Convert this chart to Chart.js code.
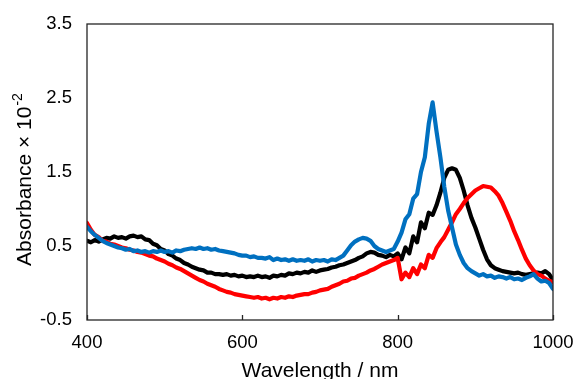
<!DOCTYPE html>
<html>
<head>
<meta charset="utf-8">
<script src="https://cdn.jsdelivr.net/npm/chart.js@4/dist/chart.umd.min.js"></script>
<style>
    body { margin: 0; background: #fff; }
    #box { width: 577px; height: 379px; }
</style>
</head>
<body>
<div id="box"><canvas id="spectrum" width="577" height="379"></canvas></div>
<script>
// 波长 (nm)
const wavelengths = [
    400, 405, 410, 415, 420, 425, 430, 435, 440, 445, 450, 455, 460, 465, 470, 475, 480, 485, 490, 495,
    500, 505, 510, 515, 520, 525, 530, 535, 540, 545, 550, 555, 560, 565, 570, 575, 580, 585, 590, 595,
    600, 605, 610, 615, 620, 625, 630, 635, 640, 645, 650, 655, 660, 665, 670, 675, 680, 685, 690, 695,
    700, 705, 710, 715, 720, 725, 730, 735, 740, 745, 750, 755, 760, 765, 770, 775, 780, 785, 790, 795,
    800, 805, 810, 815, 820, 825, 830, 835, 840, 845, 850, 855, 860, 865, 870, 875, 880, 885, 890, 895,
    900, 905, 910, 915, 920, 925, 930, 935, 940, 945, 950, 955, 960, 965, 970, 975, 980, 985, 990, 995,
    1000
];

// 黑色曲线
const blackAbs = [
    0.57, 0.55, 0.58, 0.56, 0.59, 0.61, 0.60, 0.63, 0.61, 0.62, 0.60, 0.63, 0.64, 0.62, 0.63, 0.59, 0.58, 0.53, 0.51, 0.46,
    0.44, 0.39, 0.37, 0.33, 0.31, 0.27, 0.25, 0.22, 0.20, 0.18, 0.17, 0.14, 0.14, 0.12, 0.12, 0.11, 0.12, 0.10, 0.11, 0.09,
    0.10, 0.08, 0.09, 0.08, 0.10, 0.08, 0.09, 0.07, 0.10, 0.09, 0.11, 0.10, 0.13, 0.12, 0.14, 0.13, 0.15, 0.14, 0.17, 0.15,
    0.17, 0.18, 0.19, 0.21, 0.22, 0.24, 0.25, 0.27, 0.29, 0.31, 0.34, 0.36, 0.40, 0.42, 0.41, 0.38, 0.37, 0.35, 0.38, 0.36,
    0.40, 0.32, 0.48, 0.40, 0.63, 0.55, 0.82, 0.74, 0.95, 0.92, 1.05, 1.22, 1.42, 1.53, 1.55, 1.53, 1.42, 1.25, 1.05, 0.88,
    0.75, 0.60, 0.45, 0.32, 0.24, 0.20, 0.18, 0.16, 0.15, 0.14, 0.13, 0.14, 0.12, 0.11, 0.12, 0.13, 0.14, 0.13, 0.16, 0.12,
    0.04
];

// 红色曲线
const redAbs = [
    0.81, 0.72, 0.65, 0.62, 0.57, 0.56, 0.53, 0.52, 0.50, 0.48, 0.47, 0.45, 0.44, 0.42, 0.41, 0.39, 0.37, 0.36, 0.33, 0.31,
    0.29, 0.26, 0.24, 0.21, 0.19, 0.16, 0.13, 0.10, 0.07, 0.04, 0.02, -0.01, -0.03, -0.05, -0.08, -0.10, -0.12, -0.13, -0.15, -0.16,
    -0.17, -0.18, -0.19, -0.20, -0.19, -0.21, -0.20, -0.22, -0.20, -0.21, -0.19, -0.20, -0.18, -0.19, -0.17, -0.16, -0.15, -0.15, -0.13, -0.12,
    -0.10, -0.09, -0.08, -0.05, -0.03, -0.01, 0.02, 0.03, 0.06, 0.07, 0.10, 0.12, 0.14, 0.17, 0.19, 0.22, 0.25, 0.27, 0.29, 0.31,
    0.34, 0.05, 0.14, 0.08, 0.20, 0.12, 0.25, 0.20, 0.38, 0.34, 0.47, 0.55, 0.62, 0.72, 0.82, 0.93, 1.00, 1.08, 1.15, 1.20,
    1.25, 1.28, 1.31, 1.30, 1.29, 1.24, 1.18, 1.08, 0.96, 0.84, 0.70, 0.58, 0.45, 0.33, 0.24, 0.17, 0.12, 0.10, 0.06, 0.03,
    0.01
];

// 蓝色曲线
const blueAbs = [
    0.76, 0.70, 0.65, 0.61, 0.57, 0.54, 0.52, 0.50, 0.48, 0.47, 0.45, 0.46, 0.43, 0.44, 0.42, 0.43, 0.41, 0.43, 0.42, 0.44,
    0.42, 0.43, 0.41, 0.44, 0.43, 0.45, 0.46, 0.47, 0.46, 0.48, 0.46, 0.47, 0.45, 0.46, 0.44, 0.43, 0.42, 0.41, 0.40, 0.38,
    0.37, 0.37, 0.35, 0.36, 0.34, 0.34, 0.33, 0.35, 0.31, 0.33, 0.31, 0.32, 0.30, 0.32, 0.30, 0.31, 0.30, 0.32, 0.29, 0.31,
    0.30, 0.31, 0.29, 0.32, 0.31, 0.34, 0.37, 0.44, 0.51, 0.56, 0.59, 0.61, 0.60, 0.57, 0.50, 0.46, 0.44, 0.42, 0.44, 0.46,
    0.56, 0.68, 0.86, 0.93, 1.14, 1.20, 1.50, 1.70, 2.15, 2.44, 2.05, 1.70, 1.30, 0.98, 0.75, 0.52, 0.38, 0.27, 0.20, 0.16,
    0.13, 0.10, 0.12, 0.09, 0.10, 0.07, 0.09, 0.08, 0.06, 0.08, 0.05, 0.06, 0.04, 0.07, 0.09, 0.12, 0.06, 0.02, 0.03, 0.00,
    -0.08
];

// 坐标轴
const xTicks = [400, 600, 800, 1000];
const yTicks = [-0.5, 0.5, 1.5, 2.5, 3.5];

const FONT = '"Liberation Sans", Arial, sans-serif';

function toPoints(values) {
    return values.map((v, i) => ({ x: wavelengths[i], y: v }));
}

// 外框 + 向内的刻度线
const frame = {
    id: 'frame',
    afterDatasetsDraw(chart) {
        const { ctx, chartArea: a, scales } = chart;
        ctx.save();
        ctx.strokeStyle = '#262626';
        ctx.lineWidth = 1.3;
        ctx.strokeRect(a.left, a.top, a.right - a.left, a.bottom - a.top);
        ctx.beginPath();
        xTicks.forEach(t => {
            const px = Math.round(scales.x.getPixelForValue(t)) + 0.5;
            ctx.moveTo(px, a.bottom);
            ctx.lineTo(px, a.bottom - 5);
        });
        ctx.stroke();
        ctx.restore();
    }
};

// 轴标题（带上标）
const titles = {
    id: 'titles',
    afterDraw(chart) {
        const ctx = chart.ctx;
        const a = chart.chartArea;
        ctx.save();
        ctx.fillStyle = '#000';
        ctx.textBaseline = 'alphabetic';

        ctx.font = '21px ' + FONT;
        ctx.textAlign = 'center';
        ctx.fillText('Wavelength / nm', (a.left + a.right) / 2, 377);

        ctx.textAlign = 'left';
        ctx.translate(31, 180);
        ctx.rotate(-Math.PI / 2);
        const main = 'Absorbance × 10';
        const sup = '-2';
        ctx.font = '21px ' + FONT;
        const w1 = ctx.measureText(main).width;
        ctx.font = '14px ' + FONT;
        const w2 = ctx.measureText(sup).width;
        const start = -(w1 + w2) / 2;
        ctx.font = '21px ' + FONT;
        ctx.fillText(main, start, 0);
        ctx.font = '14px ' + FONT;
        ctx.fillText(sup, start + w1 + 1, -9);
        ctx.restore();
    }
};

function lineSet(label, values, color) {
    return {
        label: label,
        data: toPoints(values),
        borderColor: color,
        backgroundColor: color,
        borderWidth: 4.2,
        pointRadius: 0,
        tension: 0,
        borderJoinStyle: 'round',
        borderCapStyle: 'round'
    };
}

document.addEventListener('DOMContentLoaded', () => {
    const ctx = document.getElementById('spectrum').getContext('2d');
    new Chart(ctx, {
        type: 'line',
        data: {
            datasets: [
                lineSet('blue', blueAbs, '#0070c0'),
                lineSet('red', redAbs, '#ff0000'),
                lineSet('black', blackAbs, '#000000')
            ]
        },
        options: {
            responsive: false,
            animation: false,
            layout: { padding: { top: 24, right: 24, left: 0, bottom: 0 } },
            plugins: {
                legend: { display: false },
                tooltip: { enabled: false }
            },
            scales: {
                x: {
                    type: 'linear',
                    min: 400,
                    max: 1000,
                    afterFit: scale => {
                        scale.height = 59;
                        scale.paddingLeft = 0;
                        scale.paddingRight = 0;
                    },
                    afterBuildTicks: scale => { scale.ticks = xTicks.map(v => ({ value: v })); },
                    grid: { display: false, drawTicks: false },
                    border: { display: false },
                    ticks: {
                        padding: 12,
                        color: '#000',
                        font: { family: FONT, size: 18.5 },
                        maxRotation: 0,
                        callback: v => String(v)
                    }
                },
                y: {
                    min: -0.5,
                    max: 3.5,
                    afterFit: scale => {
                        scale.width = 87;
                        scale.paddingTop = 0;
                        scale.paddingBottom = 0;
                    },
                    afterBuildTicks: scale => { scale.ticks = yTicks.map(v => ({ value: v })); },
                    grid: { display: false, drawTicks: false },
                    border: { display: false },
                    ticks: {
                        padding: 15,
                        color: '#000',
                        font: { family: FONT, size: 18.5 },
                        callback: v => v.toFixed(1)
                    }
                }
            }
        },
        plugins: [frame, titles]
    });
});
</script>
</body>
</html>
